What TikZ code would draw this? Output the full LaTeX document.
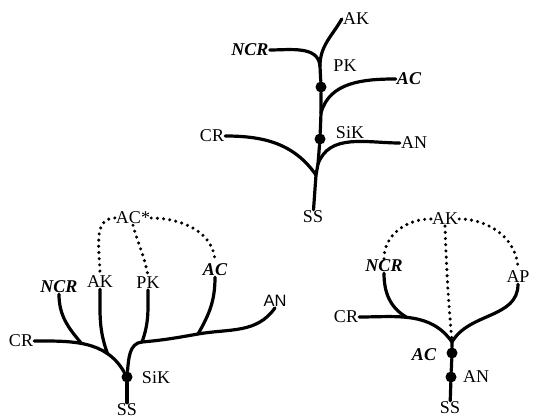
\documentclass[tikz,border=0pt]{standalone}
\usepackage{fontspec}
\setmainfont{Liberation Serif}
\newfontfamily\arialfont{Liberation Sans}
\usetikzlibrary{positioning}

\begin{document}
\begin{tikzpicture}[
	x=1pt, y=-1pt,
	every node/.style={font=\fontsize{18}{21}\selectfont, inner sep=1pt},
	branch/.style={draw, line width=3.2pt, line cap=round},
	link/.style={draw, line width=3.4pt, line cap=round, dash pattern=on 0pt off 6.2pt},
	knot/.style={circle, fill, minimum size=11pt, inner sep=0pt},
	keylabel/.style={font=\fontsize{18}{21}\selectfont\bfseries\itshape},
	]
	\useasboundingbox (0,0) rectangle (533,419);
	
	% Top tree
	\node (ssA) at (313,217) {SS};
	\coordinate (jA1) at (316,175);
	\coordinate (jA2) at (318,164);
	\node[knot] (sikA) at (320,139) {};
	\coordinate (jA3) at (321,113);
	\node[knot] (pkA) at (321,87) {};
	\coordinate (jA4) at (320,66);
	\node (crA) at (212,136) {CR};
	\node (anA) at (414,143) {AN};
	\node[keylabel] (acA) at (409,79) {AC};
	\node[keylabel] (ncrA) at (250,50) {NCR};
	\node (akA) at (356,19) {AK};
	\node (sikAl) at (350,133) {SiK};
	\node (pkAl) at (345,66) {PK};
	
	\draw[branch] (ssA) -- (jA1) -- (jA2) -- (sikA) -- (jA3) -- (pkA) -- (jA4)
		to[out=90,in=-120] (akA.west);
	\draw[branch] (crA.east) to[out=0,in=125] (jA1);
	\draw[branch] (anA.west) to[out=180,in=70] (jA2);
	\draw[branch] (acA.west) to[out=180,in=75] (jA3);
	\draw[branch] (ncrA.east) to[out=0,in=95] (jA4);
	
	% Bottom left tree
	\node (ssB) at (127,410) {SS};
	\node[knot] (sikB) at (127,377) {};
	\node (sikBl) at (156,378) {SiK};
	\coordinate (jB3) at (142,342);
	\coordinate (jB4) at (198,334);
	\node (crB) at (21,341) {CR};
	\node[keylabel] (ncrB) at (59,287) {NCR};
	\node (akB) at (100,282) {AK};
	\node (pkB) at (148,283) {PK};
	\node[keylabel] (acB) at (215,270) {AC};
	\node[font=\arialfont\fontsize{16.5}{19}\selectfont] (anB) at (275,301) {AN};
	\node (acsB) at (133,218) {AC*};
	
	\draw[branch] (ssB) -- (sikB);
	\draw[branch] (crB.east) to[out=0,in=120] coordinate[pos=0.45] (jB2)
		coordinate[pos=0.75] (jB1) (sikB);
	\draw[branch] (sikB) to[out=85,in=185] (jB3) to[out=5,in=190] (jB4)
		to[out=10,in=-125] (anB.south);
	\draw[branch] (ncrB.south) to[out=-90,in=130] (jB2);
	\draw[branch] (akB.south) to[out=-90,in=110] (jB1);
	\draw[branch] (pkB.south) to[out=-90,in=70] (jB3);
	\draw[branch] (acB.south) to[out=-90,in=60] (jB4);
	
	\draw[link] (acsB.west) to[out=180,in=90] (akB.north);
	\draw[link] (acsB.south) to[out=-75,in=100] (pkB.north);
	\draw[link] (acsB.east) to[out=0,in=90] (acB.north);
	
	% Bottom right tree
	\node (akC) at (445,219) {AK};
	\node[keylabel] (ncrC) at (384,266) {NCR};
	\node (crC) at (346,317) {CR};
	\node (apC) at (518,277) {AP};
	\coordinate (jC1) at (452,342);
	\node[knot] (acC) at (452,353) {};
	\node[knot] (anC) at (451,377) {};
	\node[keylabel] (acCl) at (424,355) {AC};
	\node (anCl) at (476,377) {AN};
	\node (ssC) at (450,408) {SS};
	
	\draw[branch] (ssC) -- (anC) -- (acC) -- (jC1);
	\draw[branch] (crC.east) to[out=0,in=125] coordinate[pos=0.45] (jC2) (jC1);
	\draw[branch] (ncrC.south) to[out=-90,in=150] (jC2);
	\draw[branch] (apC.south) to[out=-90,in=60] (jC1);
	
	\draw[link] (akC.south) to[out=-88,in=95] (jC1);
	\draw[link] (akC.west) to[out=180,in=90] (ncrC.north);
	\draw[link] (akC.east) to[out=0,in=90] (apC.north);
	
\end{tikzpicture}
\end{document}
